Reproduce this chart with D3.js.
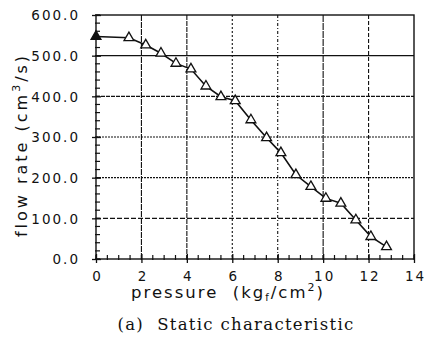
<!DOCTYPE html>
<html><head><meta charset="utf-8">
<script src="https://cdn.jsdelivr.net/npm/d3@7"></script>
<style>body{margin:0;background:#fff}svg{display:block}</style>
</head><body>
<svg id="c" width="425" height="337"></svg>
<script>
const pressure = [0, 1.45, 2.19, 2.86, 3.52, 4.18, 4.84, 5.50, 6.13, 6.82, 7.51, 8.14, 8.80, 9.46, 10.12, 10.78, 11.44, 12.10, 12.79];
const flow     = [547, 544, 526, 506, 481, 467, 425, 399, 389, 342, 298, 261, 207, 178, 149, 137, 96, 55, 30];
const xTicks = [0, 2, 4, 6, 8, 10, 12, 14];
const yTicks = [0, 100, 200, 300, 400, 500, 600];
const yTickLabels = ["0.0", "100.0", "200.0", "300.0", "400.0", "500.0", "600.0"];

const svg = d3.select("#c");
const L = 96, R = 414, T = 15, B = 259;
const x = d3.scaleLinear().domain([0, 14]).range([L, R]);
const y = d3.scaleLinear().domain([0, 600]).range([B, T]);
const ink = "#111";
const sans = "DejaVu Sans, Verdana, sans-serif";
const NB = "\u00a0";

// grid
const vDash = {2: "6,1", 4: "5,1", 6: "2,2", 8: "3,2,1,2", 10: "7,1", 12: "4,2"};
const hDash = {100: "5,2", 200: "2,1", 300: "2,1", 400: "4,1", 500: null};
svg.append("g").selectAll("line").data(xTicks.filter(d => d > 0 && d < 14)).join("line")
  .attr("x1", d => x(d)).attr("x2", d => x(d)).attr("y1", T).attr("y2", B)
  .attr("stroke", ink).attr("stroke-width", 1.1).attr("stroke-dasharray", d => vDash[d]);
svg.append("g").selectAll("line").data(yTicks.filter(d => d > 0 && d < 600)).join("line")
  .attr("x1", L).attr("x2", R).attr("y1", d => y(d)).attr("y2", d => y(d))
  .attr("stroke", ink).attr("stroke-width", 1.1).attr("stroke-dasharray", d => hDash[d]);

// frame
svg.append("rect").attr("x", L).attr("y", T).attr("width", R - L).attr("height", B - T)
  .attr("fill", "none").attr("stroke", ink).attr("stroke-width", 1.4);

// minor ticks
svg.append("g").selectAll("line").data(d3.range(0, 600.1, 20)).join("line")
  .attr("x1", L - 1).attr("x2", L + 4).attr("y1", d => y(d)).attr("y2", d => y(d))
  .attr("stroke", ink).attr("stroke-width", 1.2);
svg.append("g").selectAll("line").data(d3.range(0, 14.01, 0.5)).join("line")
  .attr("x1", d => x(d)).attr("x2", d => x(d)).attr("y1", B + 1).attr("y2", B - 4)
  .attr("stroke", ink).attr("stroke-width", 1.2);

// axes (major ticks + labels)
const yAxis = d3.axisLeft(y).tickValues(yTicks).tickFormat((d, i) => yTickLabels[i]).tickSizeOuter(0);
const gy = svg.append("g").attr("transform", `translate(${L},0)`).call(yAxis);
gy.select(".domain").remove();
gy.selectAll(".tick line").attr("x1", -4).attr("x2", 5).attr("stroke", ink).attr("stroke-width", 1.3);
gy.selectAll("text").attr("x", -16).attr("font-family", sans).attr("font-size", 13.5)
  .attr("letter-spacing", 2).attr("fill", ink).attr("dy", "0.36em");

const xAxis = d3.axisBottom(x).tickValues(xTicks).tickFormat(d3.format("d")).tickSizeOuter(0);
const gx = svg.append("g").attr("transform", `translate(0,${B})`).call(xAxis);
gx.select(".domain").remove();
gx.selectAll(".tick line").attr("y1", 4).attr("y2", -5).attr("stroke", ink).attr("stroke-width", 1.3);
gx.selectAll("text").attr("y", 22).attr("dy", null).attr("dx", 1).attr("font-family", sans).attr("font-size", 13.5)
  .attr("letter-spacing", 2).attr("fill", ink);

// data line
const pts = pressure.map((p, i) => [p, flow[i]]);
svg.append("path").datum(pts)
  .attr("d", d3.line().x(d => x(d[0])).y(d => y(d[1])))
  .attr("fill", "none").attr("stroke", ink).attr("stroke-width", 1.6);

// markers
const tri = d3.symbol().type(d3.symbolTriangle).size(42);
svg.append("g").selectAll("path").data(pts).join("path")
  .attr("transform", d => `translate(${x(d[0])},${y(d[1])})`)
  .attr("d", tri())
  .attr("fill", (d, i) => i === 0 ? ink : "#fff")
  .attr("stroke", ink).attr("stroke-width", 1.3);

// axis titles
const yt = svg.append("text").attr("transform", "translate(27,145) rotate(-90)")
  .attr("text-anchor", "middle").attr("font-family", sans)
  .attr("font-size", 16).attr("letter-spacing", 3).attr("fill", ink);
yt.append("tspan").text(`flow${NB}rate${NB}(cm`);
yt.append("tspan").attr("font-size", 11).attr("dy", -7).text("3");
yt.append("tspan").attr("dy", 7).text("/s)");

const xt = svg.append("text").attr("x", 228).attr("y", 298)
  .attr("text-anchor", "middle").attr("font-family", sans)
  .attr("font-size", 16.5).attr("letter-spacing", 2).attr("fill", ink);
xt.append("tspan").text(`pressure${NB}${NB}(kg`);
xt.append("tspan").attr("font-size", 10).attr("dy", 3).text("f");
xt.append("tspan").attr("dy", -3).text("/cm");
xt.append("tspan").attr("font-size", 11).attr("dy", -7).text("2");
xt.append("tspan").attr("dy", 7).text(")");

svg.append("text").attr("x", 236).attr("y", 330).attr("text-anchor", "middle")
  .attr("font-family", "DejaVu Serif, serif").attr("font-size", 16.5).attr("letter-spacing", 1.3).attr("fill", ink)
  .text(`(a)${NB}${NB}Static${NB}characteristic`);
</script>
</body></html>
